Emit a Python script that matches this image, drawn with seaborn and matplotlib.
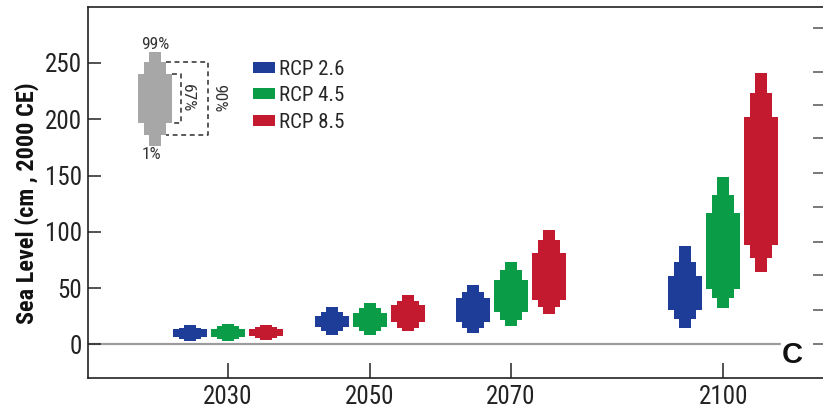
import numpy as np
import pandas as pd
import matplotlib
matplotlib.use("Agg")
import matplotlib.pyplot as plt
from matplotlib import font_manager
from matplotlib.patches import Patch
import seaborn as sns

# ---- projection data (cm of sea-level rise relative to 2000 CE) ----
YEARS = [2030, 2050, 2070, 2100]
SCENARIOS = ["RCP 2.6", "RCP 4.5", "RCP 8.5"]
COLORS = ["#1d3d98", "#0b9c48", "#c41a30"]

# percentiles for each scenario, one value per year
RCP26_P01 = [3.0, 8.5, 10.0, 14.5]
RCP26_P05 = [4.5, 11.5, 14.5, 23.0]
RCP26_P17 = [6.5, 15.5, 20.0, 31.0]
RCP26_P83 = [13.5, 25.0, 41.0, 60.5]
RCP26_P95 = [15.0, 29.0, 47.0, 73.5]
RCP26_P99 = [17.0, 33.5, 53.0, 87.0]

RCP45_P01 = [3.0, 8.5, 16.0, 32.0]
RCP45_P05 = [4.5, 12.0, 22.0, 41.0]
RCP45_P17 = [7.0, 15.5, 29.0, 49.0]
RCP45_P83 = [14.0, 28.0, 57.0, 116.5]
RCP45_P95 = [16.0, 32.0, 66.0, 133.0]
RCP45_P99 = [18.0, 37.0, 73.5, 149.0]

RCP85_P01 = [4.0, 11.5, 27.0, 64.5]
RCP85_P05 = [6.0, 15.0, 33.0, 76.5]
RCP85_P17 = [7.5, 19.5, 39.5, 88.5]
RCP85_P83 = [14.0, 35.0, 81.0, 202.0]
RCP85_P95 = [15.5, 39.0, 93.0, 223.0]
RCP85_P99 = [17.5, 44.0, 101.5, 241.0]

# key glyph explaining the percentile bands
KEY_YEAR = 2019.7
KEY_P01, KEY_P05, KEY_P17 = 176.0, 186.0, 197.0
KEY_P83, KEY_P95, KEY_P99 = 240.0, 251.0, 260.0
KEY_COLOR = "#a7a7a7"

Y_TICKS = [0, 50, 100, 150, 200, 250]
# ticks of the neighbouring panel's axis along the right edge
RIGHT_TICKS = [281, 242, 213, 183, 152, 122, 91, 62, 31, 0]

# ---- layout constants ----
DODGE = 5.37                       # years between scenario columns
BAND_WIDTHS = {"1-99": 1.7, "5-95": 3.1, "17-83": 4.8}

sns.set_style("ticks")
_names = {f.name for f in font_manager.fontManager.ttflist}
NARROW = next((n for n in ["Liberation Sans Narrow", "Roboto Condensed", "Open Sans Condensed"]
               if n in _names), "Liberation Sans")
plt.rcParams["font.family"] = [NARROW, "DejaVu Sans"]

rows = []
table = {
    "RCP 2.6": (RCP26_P01, RCP26_P05, RCP26_P17, RCP26_P83, RCP26_P95, RCP26_P99),
    "RCP 4.5": (RCP45_P01, RCP45_P05, RCP45_P17, RCP45_P83, RCP45_P95, RCP45_P99),
    "RCP 8.5": (RCP85_P01, RCP85_P05, RCP85_P17, RCP85_P83, RCP85_P95, RCP85_P99),
}
for si, sc in enumerate(SCENARIOS):
    p01, p05, p17, p83, p95, p99 = table[sc]
    for yi, yr in enumerate(YEARS):
        for band, lo, hi in (("1-99", p01[yi], p99[yi]),
                             ("5-95", p05[yi], p95[yi]),
                             ("17-83", p17[yi], p83[yi])):
            rows.append(dict(scenario=sc, year=yr, x=yr + (si - 1) * DODGE,
                             band=band, lo=lo, hi=hi, span=hi - lo))
df = pd.DataFrame(rows)

fig = plt.figure(figsize=(8.23, 4.12), dpi=100)
ax = fig.add_axes([88 / 823, 34 / 412, 735 / 823, 371 / 412])


def native_width(xs):
    u = np.unique(xs)
    return float(np.min(np.diff(u))) if len(u) > 1 else 1.0


def draw_bands(sub, color):
    """Stepped band glyph: nested percentile ranges drawn as bars."""
    for band, w in BAND_WIDTHS.items():
        part = sub[sub["band"] == band].sort_values("x")
        sns.barplot(data=part, x="x", y="span", native_scale=True,
                    width=w / native_width(part["x"].to_numpy()),
                    bottom=part["lo"].to_numpy(), color=color, saturation=1,
                    errorbar=None, linewidth=0, ax=ax)


for sc, col in zip(SCENARIOS, COLORS):
    draw_bands(df[df["scenario"] == sc], col)

key = pd.DataFrame(dict(x=[KEY_YEAR] * 3, band=["1-99", "5-95", "17-83"],
                        lo=[KEY_P01, KEY_P05, KEY_P17], hi=[KEY_P99, KEY_P95, KEY_P83]))
key["span"] = key["hi"] - key["lo"]
draw_bands(key, KEY_COLOR)

# brackets for the 67 % and 90 % ranges of the key
dash = dict(color="#2b2b2b", lw=1.1, ls=(0, (3.2, 2.4)), solid_capstyle="butt")
x67a = KEY_YEAR + BAND_WIDTHS["17-83"] / 2
x67b = x67a + 1.2
ax.plot([x67a, x67b, x67b, x67a], [KEY_P83, KEY_P83, KEY_P17, KEY_P17], **dash)
x90a = KEY_YEAR + BAND_WIDTHS["5-95"] / 2
x90b = KEY_YEAR + 7.5
ax.plot([x90a, x90b, x90b, x90a], [KEY_P95, KEY_P95, KEY_P05, KEY_P05], **dash)

txt = dict(color="#333333", fontsize=12.5)
ax.annotate("99%", xy=(KEY_YEAR, KEY_P99), xytext=(0, 0), textcoords="offset points",
            ha="center", va="bottom", **txt)
ax.annotate("1%", xy=(KEY_YEAR - 0.5, KEY_P01), xytext=(0, -0.5), textcoords="offset points",
            ha="center", va="top", **txt)
ax.text(x67b + 0.95, (KEY_P17 + KEY_P83) / 2, "67%", rotation=270, ha="center",
        va="center", **txt)
ax.text(x90b + 1.45, (KEY_P17 + KEY_P83) / 2, "90%", rotation=270, ha="center",
        va="center", **txt)

# zero reference line
ax.axhline(0, xmin=0, xmax=0.9415, color="#9c9c9c", lw=1.6, zorder=0)

ax.set_xlim(2010.2, 2114.1)
ax.set_ylim(-29.8, 299.7)
ax.set_xticks(YEARS)
ax.set_xticklabels([str(y) for y in YEARS])
ax.set_yticks(Y_TICKS)
ax.set_xlabel("")
ax.set_ylabel("Sea Level (cm , 2000 CE)", fontsize=17.5, fontweight="bold", color="#111111")
ax.yaxis.set_label_coords(-0.066, 0.47)

for side in ("left", "bottom", "top"):
    ax.spines[side].set_visible(True)
    ax.spines[side].set_linewidth(1.2)
    ax.spines[side].set_color("#222222")
ax.spines["right"].set_visible(False)
ax.tick_params(axis="both", direction="in", colors="#222222", labelsize=18, width=1.1)
ax.tick_params(axis="x", length=11, pad=5)
ax.tick_params(axis="y", length=9, pad=4)

handles = [Patch(facecolor=c, edgecolor="none", label=s) for s, c in zip(SCENARIOS, COLORS)]
ax.legend(handles=handles, loc="upper left", bbox_to_anchor=(0.224, 0.858), frameon=False,
          fontsize=15, borderpad=0, borderaxespad=0, handlelength=1.05, handleheight=0.45,
          handletextpad=0.2, labelspacing=0.36)

ax.text(0.958, 0.062, "C", transform=ax.transAxes, ha="center", va="center",
        fontsize=21, fontweight="bold", color="#111111", family="Liberation Sans")

ax2 = ax.twinx()
ax2.set_ylim(ax.get_ylim())
ax2.set_yticks(RIGHT_TICKS)
ax2.tick_params(axis="y", direction="in", length=7, width=1.1, colors="#555555",
                labelright=False)
for s in ax2.spines.values():
    s.set_visible(False)

fig.savefig("out.png", dpi=100)
